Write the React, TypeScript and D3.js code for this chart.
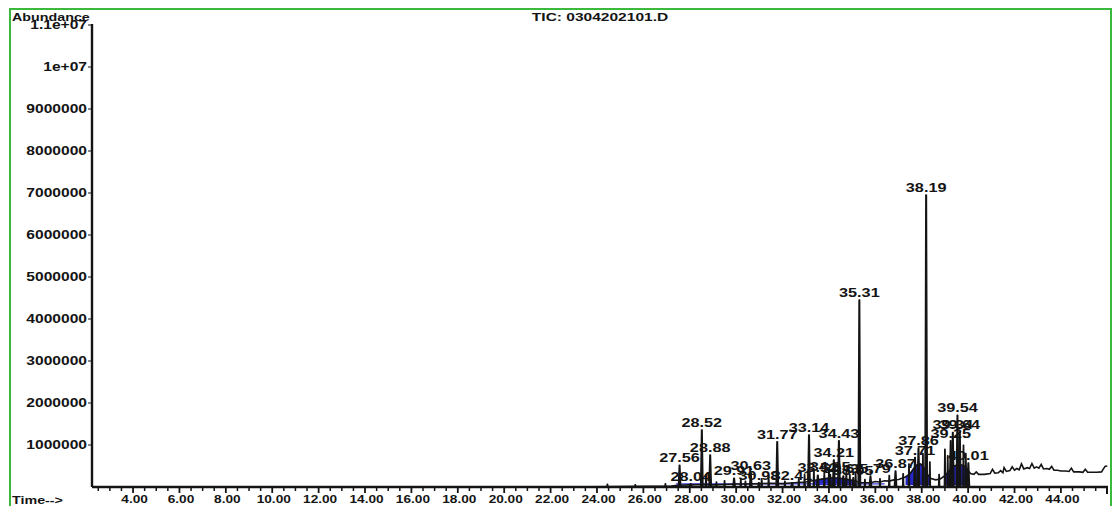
import * as d3 from "d3";

const width = 1114;
const height = 506;

// axis ticks
const yTickValues = [1e6, 2e6, 3e6, 4e6, 5e6, 6e6, 7e6, 8e6, 9e6, 1e7, 1.1e7];
const yTickLabels = [
  "1000000", "2000000", "3000000", "4000000", "5000000", "6000000",
  "7000000", "8000000", "9000000", "1e+07", "1.1e+07",
];
const xTickValues = [4, 6, 8, 10, 12, 14, 16, 18, 20, 22, 24, 26, 28, 30, 32, 34, 36, 38, 40, 42, 44];
const xTickLabels = [
  "4.00", "6.00", "8.00", "10.00", "12.00", "14.00", "16.00", "18.00", "20.00", "22.00", "24.00",
  "26.00", "28.00", "30.00", "32.00", "34.00", "36.00", "38.00", "40.00", "42.00", "44.00",
];

// baseline of the TIC trace (time in min, abundance)
const baseTimes = [
  2.23, 23.9, 27.2, 27.5, 28.0, 28.5, 29.0, 29.5, 30.0, 30.5, 31.0, 31.5, 32.0, 32.5, 33.0, 33.4,
  33.8, 34.2, 34.6, 35.0, 35.4, 35.8, 36.0, 36.2, 36.4, 36.6, 36.8, 37.0, 37.3, 37.5, 37.65, 37.8,
  37.95, 38.1, 38.25, 38.4, 38.6, 38.8, 39.0, 39.2, 39.4, 39.6, 39.8, 39.95, 40.1, 40.25, 40.35,
  40.45, 40.7, 40.95, 41.05, 41.15, 41.3, 41.4, 41.5, 41.55, 41.65, 41.8, 41.9, 42.0, 42.1, 42.2,
  42.3, 42.4, 42.55, 42.65, 42.75, 42.85, 42.95, 43.05, 43.15, 43.25, 43.4, 43.5, 43.6, 43.7,
  43.85, 44.0, 44.2, 44.35, 44.45, 44.55, 44.8, 44.95, 45.05, 45.15, 45.4, 45.55, 45.75, 45.9, 46.0,
];
const baseAbund = [
  5e3, 5e3, 2e4, 4e4, 5e4, 6e4, 5e4, 6e4, 7e4, 7e4, 8e4, 9e4, 8e4, 1e5, 1.2e5, 1.6e5,
  2e5, 2.2e5, 2e5, 1.6e5, 1e5, 1e5, 1.3e5, 1.2e5, 1.5e5, 1.4e5, 1.7e5, 1.8e5, 2.4e5, 3.2e5, 4.4e5, 5.3e5,
  5.5e5, 4.6e5, 3e5, 2e5, 1.7e5, 1.9e5, 2.7e5, 4e5, 5e5, 5.4e5, 5.1e5, 4.3e5, 3.2e5, 3.0e5, 3.6e5,
  3.0e5, 3.0e5, 3.2e5, 4.2e5, 3.3e5, 3.4e5, 3.9e5, 3.4e5, 4.6e5, 3.7e5, 3.9e5, 4.8e5, 4.0e5, 4.4e5, 4.1e5,
  5.5e5, 4.3e5, 4.6e5, 4.4e5, 5.6e5, 4.5e5, 4.8e5, 4.5e5, 5.4e5, 4.3e5, 4.4e5, 4.2e5, 4.9e5, 4.0e5,
  4.0e5, 3.8e5, 3.8e5, 3.7e5, 4.5e5, 3.6e5, 3.6e5, 3.5e5, 4.2e5, 3.5e5, 3.5e5, 3.5e5, 3.6e5, 4.9e5, 5e5,
];

// integrated (labelled) peaks
const peakTimes = [
  27.56, 28.04, 28.52, 28.88, 29.91, 30.63, 30.98, 31.77, 32.41, 33.14, 33.52, 34.05, 34.21,
  34.43, 34.62, 35.05, 35.31, 35.79, 36.87, 37.71, 37.86, 38.19, 39.25, 39.34, 39.54, 39.64, 40.01,
];
const peakHeights = [
  5.2e5, 8e4, 1.36e6, 7.6e5, 2.1e5, 3.3e5, 1e5, 1.08e6, 1e5, 1.24e6, 2.8e5, 3e5, 6.4e5,
  1.1e6, 2.6e5, 2.2e5, 4.45e6, 2.6e5, 3.8e5, 7e5, 9.3e5, 6.95e6, 1.1e6, 1.3e6, 1.71e6, 1.3e6, 5.7e5,
];
const peakLabels = [
  "27.56", "28.04", "28.52", "28.88", "29.91", "30.63", "30.98", "31.77", "32.41", "33.14",
  "33.52", "34.05", "34.21", "34.43", "34.62", "35.05", "35.31", "35.79", "36.87", "37.71",
  "37.86", "38.19", "39.25", "39.34", "39.54", "39.64", "40.01",
];

// small unlabelled spikes
const minorTimes = [
  24.45, 25.65, 26.95, 28.7, 29.15, 29.5, 30.2, 30.4, 31.1, 31.4, 32.1, 32.7, 32.95, 33.35,
  33.8, 34.0, 34.75, 34.9, 35.15, 35.55, 36.2, 36.6, 37.2, 37.45, 38.05, 38.35, 38.75, 39.0,
  39.12, 39.8, 39.9,
];
const minorHeights = [
  7e4, 6e4, 8e4, 3e5, 1.2e5, 1.5e5, 1.8e5, 1.4e5, 2e5, 2.5e5, 1.4e5, 2e5, 3e5, 4e5,
  3.5e5, 4.5e5, 4e5, 3e5, 3.5e5, 1.8e5, 2e5, 2.8e5, 3.2e5, 5.5e5, 8e5, 6e5, 3e5, 9e5,
  7.5e5, 1e6, 8e5,
];

// integration windows (blue fill)
const integStart = [33.3, 37.2, 38.9];
const integEnd = [35.2, 38.45, 40.05];
const integFloor = 5e4;
const integLine = [27.4, 36.4];

const font = "'Liberation Sans', Arial, Helvetica, sans-serif";
const ink = "#141414";

function SText({
  x,
  y,
  size,
  anchor = "start",
  sx = 1.3,
  children,
}: {
  x: number;
  y: number;
  size: number;
  anchor?: string;
  sx?: number;
  children: string;
}) {
  return (
    <text
      transform={`translate(${x},${y}) scale(${sx},1)`}
      textAnchor={anchor}
      fontSize={size}
      fontFamily={font}
      fontWeight="bold"
      fill={ink}
    >
      {children}
    </text>
  );
}

export default function App() {
  const x = d3.scaleLinear([2.23, 46.03], [92, 1108]);
  const y = d3.scaleLinear([0, 1.1e7], [487, 25]);

  const base: [number, number][] = baseTimes.map((t, i) => [t, baseAbund[i]]);
  const line = d3.line<[number, number]>(
    (d) => x(d[0]),
    (d) => y(d[1]),
  );
  const area = d3
    .area<[number, number]>()
    .x((d) => x(d[0]))
    .y0(y(integFloor))
    .y1((d) => y(d[1]));

  const spike = (t: number, h: number, hw: number) =>
    line([
      [t - hw, 0],
      [t - 0.012, h],
      [t + 0.012, h],
      [t + hw, 0],
    ]);

  const minorTicks = d3.range(2.5, 46.01, 0.5).filter((t) => t % 2 !== 0);

  return (
    <svg
      width={width}
      height={height}
      style={{ position: "absolute", left: 0, top: 0, background: "#fff" }}
    >
      <rect x={0} y={0} width={width} height={height} fill="#fff" />
      <rect x={10} y={9} width={1101} height={540} fill="none" stroke="#3cb83c" strokeWidth={2} />

      {/* integration fills */}
      {integStart.map((s, i) => (
        <path
          key={i}
          d={area(base.filter((d) => d[0] >= s && d[0] <= integEnd[i])) ?? ""}
          fill="#2626c4"
        />
      ))}
      <line
        x1={x(integLine[0])}
        x2={x(integLine[1])}
        y1={y(integFloor) - 1}
        y2={y(integFloor) - 1}
        stroke="#3a3ae0"
        strokeWidth={1.2}
      />

      {/* trace */}
      <path d={line(base) ?? ""} fill="none" stroke={ink} strokeWidth={1.6} />
      <g fill={ink} stroke={ink} strokeWidth={1.2} strokeLinejoin="round">
        {minorTimes.map((t, i) => (
          <path key={i} d={spike(t, minorHeights[i], 0.03) ?? ""} />
        ))}
        {peakTimes.map((t, i) => (
          <path key={i} d={spike(t, peakHeights[i], 0.05) ?? ""} strokeWidth={1.5} />
        ))}
      </g>

      {/* peak labels */}
      {peakTimes.map((t, i) => (
        <SText key={i} x={x(t)} y={y(peakHeights[i]) - 3} size={13} anchor="middle" sx={1.25}>
          {peakLabels[i]}
        </SText>
      ))}

      {/* y axis */}
      <line x1={92} x2={92} y1={y(1.1e7) - 1} y2={y(0)} stroke={ink} strokeWidth={2.4} />
      {yTickValues.map((v, i) => (
        <g key={i}>
          <line x1={88} x2={92} y1={y(v)} y2={y(v)} stroke={ink} strokeWidth={1} />
          <SText x={87} y={y(v) + 4.3} size={12} anchor="end">
            {yTickLabels[i]}
          </SText>
        </g>
      ))}

      {/* x axis */}
      <line x1={92} x2={1108} y1={y(0)} y2={y(0)} stroke={ink} strokeWidth={2.4} />
      {minorTicks.map((t, i) => (
        <line key={i} x1={x(t)} x2={x(t)} y1={y(0)} y2={y(0) + 4} stroke={ink} strokeWidth={1.5} />
      ))}
      {xTickValues.map((t, i) => (
        <g key={i}>
          <line x1={x(t)} x2={x(t)} y1={y(0)} y2={y(0) + 6} stroke={ink} strokeWidth={1.8} />
          <SText x={x(t) + 1.5} y={503} size={10.5} anchor="middle">
            {xTickLabels[i]}
          </SText>
        </g>
      ))}
      <line x1={1107} x2={1107} y1={y(0) - 1} y2={y(0) + 7} stroke={ink} strokeWidth={2} />

      {/* titles */}
      <SText x={12} y={20.5} size={11}>
        Abundance
      </SText>
      <SText x={600} y={20.5} size={11.5} anchor="middle" sx={1.35}>
        TIC: 0304202101.D
      </SText>
      <SText x={12} y={504} size={11}>
        Time--&gt;
      </SText>
    </svg>
  );
}
